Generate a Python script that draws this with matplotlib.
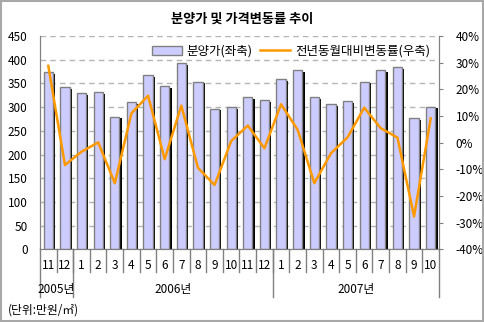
import matplotlib.pyplot as plt
import numpy as np
from matplotlib.patches import Rectangle
from matplotlib.lines import Line2D

plt.rcParams['font.family'] = ['Noto Sans CJK KR', 'DejaVu Sans']

# 데이터
months = ['11', '12', '1', '2', '3', '4', '5', '6', '7', '8', '9', '10',
          '11', '12', '1', '2', '3', '4', '5', '6', '7', '8', '9', '10']
years = ['2005년', '2006년', '2007년']
year_counts = [2, 12, 10]
price = [374, 342, 329, 331, 280, 310, 367, 344, 392, 354, 297, 300,
         321, 314, 359, 378, 321, 306, 312, 354, 378, 384, 277, 301]
change = [28.8, -8.4, -3.4, 0.1, -15.2, 11, 17.6, -6.2, 13.9, -9.4, -15.9, 0.6,
          6.4, -2.1, 14.4, 4.8, -15.2, -4, 2, 13.1, 5.4, 1.9, -27.7, 9.1]

W, H = 484, 322
fig = plt.figure(figsize=(W / 100, H / 100), dpi=100)
fig.patches.append(Rectangle((0.002, 0.003), 0.995, 0.993, transform=fig.transFigure,
                             fill=False, edgecolor='#A8A8A8', lw=1.5))

x0, x1, ytop, ybot = 40, 439, 36, 249.3
ax = fig.add_axes([x0 / W, 1 - ybot / H, (x1 - x0) / W, (ybot - ytop) / H])
x = np.arange(len(price))
bw = 0.55
# 그림자
ax.bar(x + 0.14, np.array(price) - 3.6, width=bw, color='black', zorder=2)
ax.bar(x, price, width=bw, color='#CCCCFF', edgecolor='#808080', lw=1, zorder=3,
       label='분양가(좌축)')
ax.set_xlim(-0.5, len(price) - 0.5)
ax.set_ylim(0, 450)
ax.set_yticks(range(0, 451, 50))
for v in range(50, 451, 50):
    ax.axhline(v, color='#B4B4B4', lw=1, ls=(0, (4, 3)), zorder=1)
ax.set_xticks([])
ax.tick_params(axis='y', length=0, labelsize=8.5, colors='black', pad=9)
ax.spines['top'].set_visible(False)
for s in ['left', 'bottom', 'right']:
    ax.spines[s].set_color('#808080')

ax2 = ax.twinx()
ax2.plot(x, change, color='#FF9900', lw=1.8, zorder=4, label='전년동월대비변동률(우축)')
ax2.set_ylim(-40, 40)
ax2.set_yticks(range(-40, 41, 10))
ax2.set_yticklabels([f'{v}%' for v in range(-40, 41, 10)])
ax2.tick_params(axis='y', length=3, color='#808080', labelsize=8.5, pad=9)
ax2.spines['top'].set_visible(False)
for s in ['left', 'bottom', 'right']:
    ax2.spines[s].set_color('#808080')

h1, l1 = ax.get_legend_handles_labels()
h2, l2 = ax2.get_legend_handles_labels()
ax2.legend(h1 + h2, l1 + l2, ncol=2, loc='upper right', bbox_to_anchor=(1.0, 1.0),
           frameon=False, fontsize=9, handlelength=2.4, columnspacing=0.6,
           handletextpad=0.4, borderaxespad=0.3)

# x축 라벨 (두 단)
tr = ax.get_xaxis_transform()
for i, m in enumerate(months):
    ax.text(i, -0.074, m, transform=tr, ha='center', va='center', fontsize=8.5)
for i in range(1, len(months)):
    ax.add_line(Line2D([i - 0.5, i - 0.5], [0, -0.106], transform=tr, color='#808080',
                       lw=1, clip_on=False))
start = 0
bounds = [-0.5]
for yname, n in zip(years, year_counts):
    ax.text(start + n / 2 - 0.5, -0.19, yname, transform=tr, ha='center', va='center',
            fontsize=8.5)
    start += n
    bounds.append(start - 0.5)
for b in bounds:
    ax.add_line(Line2D([b, b], [0, -0.224], transform=tr, color='#808080', lw=1,
                       clip_on=False))

fig.text(0.5, 1 - 19 / H, '분양가 및 가격변동률 추이', ha='center', va='center',
         fontsize=9.5, fontweight='bold')
fig.text(8 / W, 1 - 310 / H, '(단위:만원/㎡)', ha='left', va='center', fontsize=8.5)

fig.savefig('out.png', dpi=100)
